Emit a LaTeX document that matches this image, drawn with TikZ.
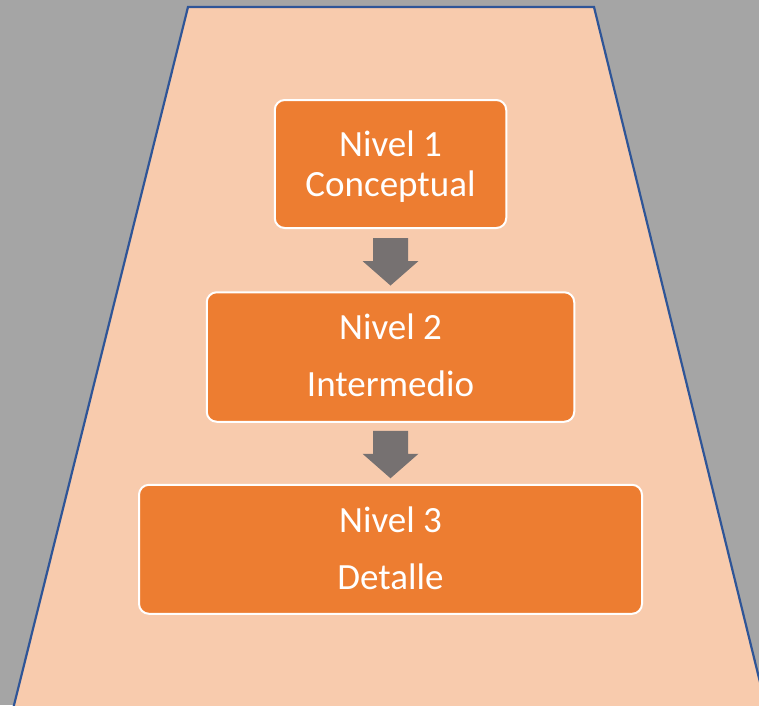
\documentclass[tikz,border=0pt]{standalone}
\usepackage{fontspec}
\setmainfont{Carlito}
\usetikzlibrary{calc}
\definecolor{bggray}{HTML}{A5A5A5}
\definecolor{peach}{HTML}{F8CBAD}
\definecolor{edgeblue}{HTML}{2F5597}
\definecolor{boxorange}{HTML}{ED7D31}
\definecolor{arrowgray}{HTML}{767171}
\tikzset{
  levelbox/.style={draw=white, line width=2pt, fill=boxorange, rounded corners=10pt, inner sep=0pt},
  lbl/.style={anchor=base, inner sep=0pt, text=white, font=\fontsize{37}{44}\selectfont},
  blockarrow/.style={fill=arrowgray, draw=none}
}
\begin{document}
\begin{tikzpicture}[x=1pt,y=-1pt]
\useasboundingbox (0,0) rectangle (759,705);
\fill[bggray] (0,0) rectangle (759,705);
\filldraw[fill=peach, draw=edgeblue, line width=2.2pt, line join=miter]
  (188,7) -- (594,7) -- (769.3,720) -- (10.3,720) -- cycle;

\node[levelbox, minimum width=231.5pt, minimum height=128pt] (b1) at (390.5,164) {};
\node[levelbox, minimum width=367.5pt, minimum height=129.5pt] (b2) at (390.5,357) {};
\node[levelbox, minimum width=503pt, minimum height=129pt] (b3) at (390.5,549.3) {};

\node[lbl] (t1a) at (390.5,156) {Nivel 1};
\node[lbl] (t1b) at (390.5,196.5) {Conceptual};
\node[lbl] (t2a) at (390.5,339.5) {Nivel 2};
\node[lbl] (t2b) at (390.5,396.6) {Intermedio};
\node[lbl] (t3a) at (390.5,532) {Nivel 3};
\node[lbl] (t3b) at (390.5,589) {Detalle};

% block arrows between boxes
\coordinate (a1) at ($(b1.south)+(0,9)$);
\coordinate (a2) at ($(b2.south)+(0,8)$);
\foreach \s in {a1,a2}{
  \fill[blockarrow] ($(\s)+(-17.5,0)$) -- ($(\s)+(17.5,0)$) -- ($(\s)+(17.5,23)$)
    -- ($(\s)+(28,23)$) -- ($(\s)+(0,47.5)$) -- ($(\s)+(-28,23)$) -- ($(\s)+(-17.5,23)$) -- cycle;
}
\end{tikzpicture}
\end{document}
